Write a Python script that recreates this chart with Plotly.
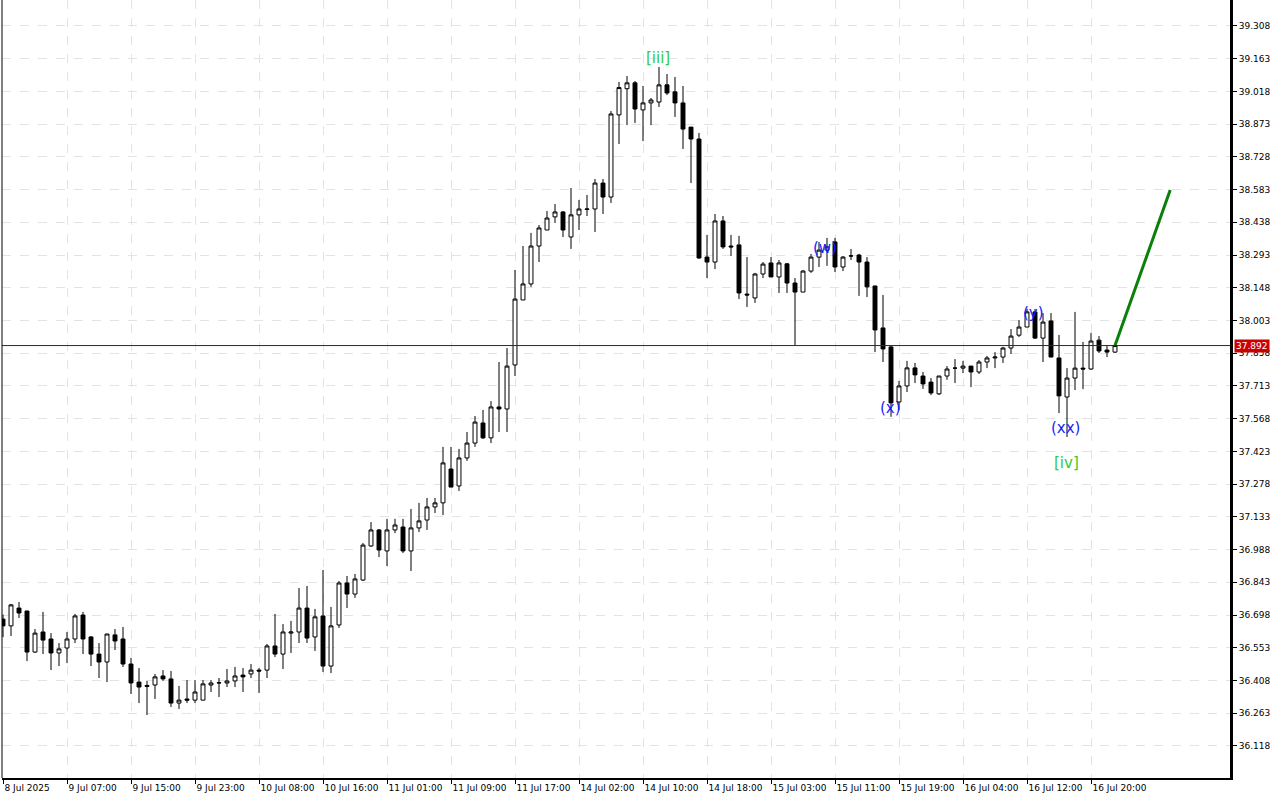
import plotly.graph_objects as go

opens = [36.68,36.650,36.729,36.716,36.534,36.623,36.592,36.530,36.552,36.592,
 36.698,36.601,36.525,36.490,36.610,36.592,36.481,36.401,36.386,36.388,
 36.428,36.415,36.308,36.326,36.321,36.321,36.388,36.397,36.397,36.406,
 36.432,36.437,36.454,36.454,36.561,36.525,36.618,36.623,36.729,36.601,
 36.694,36.472,36.654,36.840,36.791,36.853,37.004,37.075,36.982,37.075,
 37.088,36.982,37.084,37.119,37.177,37.195,37.345,37.270,37.394,37.460,
 37.549,37.483,37.620,37.611,37.806,38.094,38.165,38.333,38.404,38.462,
 38.484,38.373,38.471,38.495,38.497,38.612,38.550,38.914,39.030,39.056,
 38.936,38.967,38.971,39.047,39.016,38.967,38.860,38.807,38.284,38.262,
 38.444,38.333,38.338,38.120,38.103,38.209,38.258,38.196,38.254,38.169,
 38.129,38.222,38.284,38.315,38.351,38.240,38.289,38.293,38.262,38.156,
 37.970,37.886,37.642,37.713,37.793,37.757,37.730,37.678,37.757,37.792,
 37.792,37.801,37.775,37.819,37.837,37.841,37.881,37.938,37.974,38.041,
 37.925,38.001,37.837,37.664,37.748,37.792,37.788,37.916,37.872,37.863]
highs = [36.70,36.747,36.756,36.716,36.636,36.712,36.618,36.574,36.623,36.703,
 36.712,36.605,36.574,36.614,36.636,36.645,36.508,36.463,36.406,36.437,
 36.454,36.450,36.384,36.410,36.410,36.410,36.410,36.419,36.459,36.468,
 36.463,36.481,36.463,36.570,36.703,36.658,36.672,36.818,36.827,36.725,
 36.898,36.734,36.849,36.871,36.880,37.017,37.110,37.079,37.124,37.124,
 37.124,37.168,37.195,37.217,37.217,37.443,37.443,37.434,37.509,37.580,
 37.607,37.646,37.819,37.881,38.227,38.333,38.391,38.426,38.488,38.519,
 38.488,38.590,38.537,38.559,38.630,38.630,38.931,39.060,39.086,39.064,
 39.042,38.989,39.126,39.095,39.082,39.042,38.860,38.834,38.382,38.475,
 38.466,38.382,38.378,38.284,38.214,38.262,38.284,38.271,38.258,38.191,
 38.227,38.298,38.351,38.369,38.369,38.289,38.320,38.298,38.284,38.156,
 38.116,37.894,37.735,37.824,37.815,37.775,37.748,37.757,37.801,37.832,
 37.824,37.801,37.828,37.846,37.863,37.886,37.965,38.005,38.054,38.054,
 38.036,38.036,37.939,37.792,38.041,37.908,37.948,37.934,37.894,37.903]
lows = [36.60,36.605,36.685,36.494,36.530,36.525,36.454,36.472,36.485,36.574,
 36.525,36.472,36.419,36.401,36.543,36.468,36.348,36.308,36.255,36.326,
 36.406,36.291,36.282,36.308,36.308,36.321,36.357,36.335,36.379,36.379,
 36.357,36.419,36.353,36.419,36.512,36.459,36.530,36.574,36.574,36.539,
 36.446,36.441,36.641,36.729,36.774,36.849,37.000,36.955,36.915,37.061,
 36.973,36.893,37.066,37.075,37.150,37.141,37.265,37.248,37.381,37.443,
 37.478,37.460,37.509,37.509,37.757,38.094,38.152,38.262,38.404,38.435,
 38.373,38.320,38.404,38.466,38.395,38.475,38.524,38.785,38.869,38.878,
 38.798,38.869,38.949,39.002,38.905,38.763,38.612,38.276,38.191,38.231,
 38.320,38.289,38.098,38.063,38.081,38.191,38.196,38.125,38.125,37.894,
 38.129,38.214,38.240,38.245,38.218,38.222,38.271,38.112,38.107,37.863,
 37.819,37.576,37.607,37.686,37.726,37.700,37.673,37.673,37.740,37.726,
 37.770,37.708,37.766,37.792,37.792,37.815,37.855,37.930,37.974,37.921,
 37.819,37.841,37.593,37.487,37.695,37.699,37.784,37.859,37.841,37.859]
closes = [36.65,36.743,36.707,36.534,36.618,36.587,36.530,36.548,36.592,36.694,
 36.592,36.525,36.490,36.614,36.583,36.481,36.397,36.379,36.382,36.424,
 36.415,36.308,36.321,36.321,36.357,36.393,36.397,36.398,36.406,36.428,
 36.424,36.454,36.450,36.561,36.525,36.623,36.623,36.729,36.596,36.690,
 36.472,36.650,36.840,36.791,36.858,37.008,37.075,36.986,37.075,37.097,
 36.982,37.084,37.115,37.177,37.195,37.372,37.265,37.394,37.460,37.553,
 37.483,37.620,37.611,37.801,38.098,38.165,38.333,38.413,38.457,38.484,
 38.404,38.471,38.497,38.497,38.612,38.550,38.918,39.035,39.056,38.940,
 38.967,38.980,39.047,39.011,38.967,38.851,38.807,38.280,38.262,38.444,
 38.329,38.329,38.125,38.116,38.209,38.253,38.196,38.258,38.169,38.129,
 38.222,38.284,38.315,38.329,38.240,38.284,38.289,38.262,38.152,37.961,
 37.877,37.638,37.713,37.793,37.762,37.722,37.682,37.757,37.788,37.792,
 37.801,37.775,37.819,37.837,37.841,37.881,37.934,37.974,38.041,37.925,
 37.996,37.841,37.669,37.748,37.792,37.788,37.912,37.868,37.863,37.892]

x_tick_labels = ["8 Jul 2025","9 Jul 07:00","9 Jul 15:00","9 Jul 23:00","10 Jul 08:00",
 "10 Jul 16:00","11 Jul 01:00","11 Jul 09:00","11 Jul 17:00","14 Jul 02:00","14 Jul 10:00",
 "14 Jul 18:00","15 Jul 03:00","15 Jul 11:00","15 Jul 19:00","16 Jul 04:00","16 Jul 12:00",
 "16 Jul 20:00"]
y_ticks = [36.118,36.263,36.408,36.553,36.698,36.843,36.988,37.133,37.278,37.423,37.568,
 37.713,37.858,38.003,38.148,38.293,38.438,38.583,38.728,38.873,39.018,39.163,39.308]
current_price = 37.892
forecast_x = [139, 145.9]
forecast_y = [37.892, 38.581]
wave_labels = ["[iii]","(w)","(x)","(y)","(xx)","[iv]"]
wave_x = [81.9, 102.75, 110.9, 128.75, 132.75, 132.9]
wave_y = [39.166, 38.324, 37.615, 38.036, 37.527, 37.372]
wave_colors = ["#33cc33","#1a1aff","#1a1aff","#1a1aff","#1a1aff","#33cc33"]

idx = list(range(len(opens)))
fig = go.Figure()
fig.add_trace(go.Candlestick(x=idx, open=opens, high=highs, low=lows, close=closes,
    increasing=dict(line=dict(color="black", width=1), fillcolor="white"),
    decreasing=dict(line=dict(color="black", width=1), fillcolor="black"),
    whiskerwidth=0, hoverinfo="skip"))
fig.add_trace(go.Scatter(x=forecast_x, y=forecast_y, mode="lines",
    line=dict(color="#0a800a", width=3), hoverinfo="skip"))
fig.add_hline(y=current_price, line=dict(color="#8b0000", width=1))

for t, x, y, c in zip(wave_labels, wave_x, wave_y, wave_colors):
    fig.add_annotation(x=x, y=y, text=t, showarrow=False,
                       font=dict(family="DejaVu Sans", size=15, color=c))
fig.add_annotation(xref="paper", x=1.0, y=current_price, xanchor="left", text=f"{current_price:.3f}",
    showarrow=False, bgcolor="#cc0000", font=dict(family="DejaVu Sans", size=9, color="white"),
    borderpad=1, xshift=4)

fig.update_layout(width=1280, height=800, margin=dict(l=2, r=50, t=0, b=22, autoexpand=False),
    paper_bgcolor="white", plot_bgcolor="white", showlegend=False,
    xaxis=dict(range=[-0.125, 153.375], rangeslider=dict(visible=False),
        tickvals=[i*8 for i in range(len(x_tick_labels))], ticktext=x_tick_labels,
        ticks="outside", ticklen=4, tickcolor="black", ticklabelposition="outside right",
        tickfont=dict(family="DejaVu Sans", size=9, color="black"),
        showgrid=True, gridcolor="#e3e3e3", griddash="dash",
        showline=True, linecolor="black", linewidth=2, mirror=False, zeroline=False),
    yaxis=dict(range=[35.976, 39.423], side="right", tickvals=y_ticks,
        ticktext=[f"{v:.3f}" for v in y_ticks], ticks="outside", ticklen=4, tickcolor="black",
        tickfont=dict(family="DejaVu Sans", size=9, color="black"),
        showgrid=True, gridcolor="#e3e3e3", griddash="dash",
        showline=True, linecolor="black", linewidth=3, zeroline=False))
fig.add_shape(type="line", xref="paper", yref="paper", x0=0, x1=0, y0=0, y1=1,
              line=dict(color="black", width=1))
fig.write_html("out.html", config={"displayModeBar": False},
               post_script="document.body.style.margin='0';")
